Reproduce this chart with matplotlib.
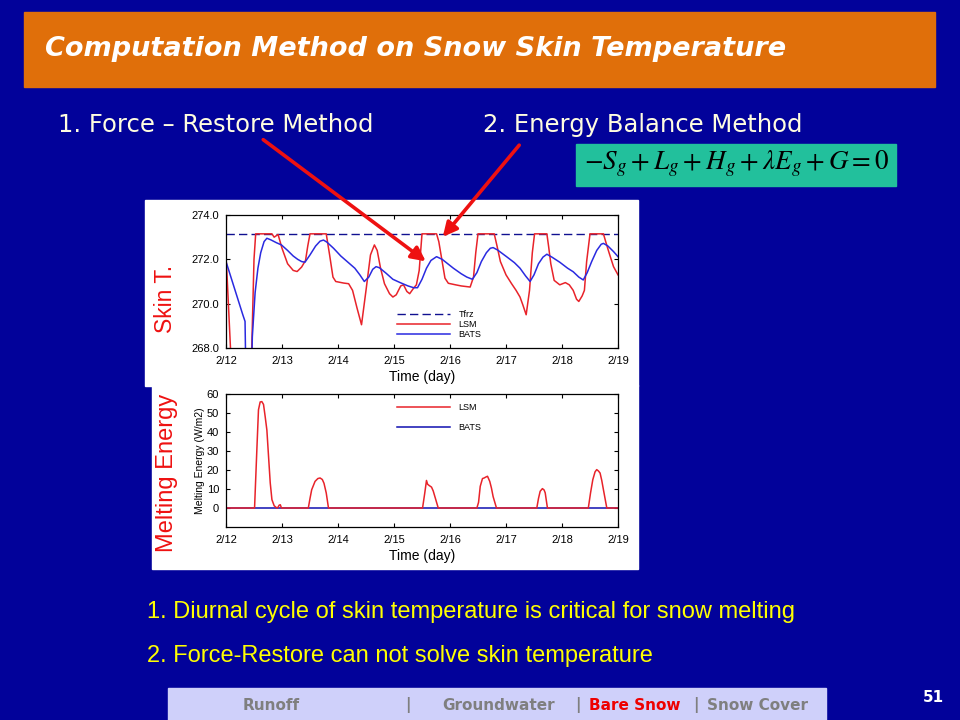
import matplotlib
matplotlib.use("Agg")
import matplotlib.pyplot as plt
from matplotlib.patches import Rectangle, FancyArrowPatch

# ---- data (t = days since 2/12) ----
day_labels = ["2/12", "2/13", "2/14", "2/15", "2/16", "2/17", "2/18", "2/19"]
tfrz = 273.15

lsm_t = [0.00, 0.02, 0.08, 0.12, 0.43, 0.46, 0.50, 0.53, 0.82, 0.86, 0.93, 1.00, 1.10, 1.20,
         1.27, 1.35, 1.42, 1.46, 1.50, 1.79, 1.85, 1.91, 1.96, 2.10, 2.19, 2.26, 2.34, 2.42,
         2.50, 2.58, 2.65, 2.70, 2.76, 2.83, 2.92, 2.98, 3.04, 3.12, 3.17, 3.23, 3.28, 3.35,
         3.40, 3.45, 3.50, 3.76, 3.80, 3.84, 3.91, 3.97, 4.10, 4.20, 4.36, 4.42, 4.46, 4.50,
         4.79, 4.84, 4.90, 5.00, 5.10, 5.18, 5.25, 5.30, 5.36, 5.42, 5.47, 5.51, 5.73, 5.76,
         5.80, 5.86, 5.96, 6.06, 6.13, 6.20, 6.26, 6.30, 6.36, 6.40, 6.44, 6.50, 6.74, 6.78,
         6.84, 6.92, 7.00]
lsm_temp = [272.1, 271.2, 268.0, 266.0, 266.0, 268.0, 272.0, 273.15, 273.15, 273.0, 273.12,
            272.5, 271.8, 271.5, 271.45, 271.65, 271.95, 272.6, 273.15, 273.15, 272.2, 271.2,
            271.0, 270.93, 270.9, 270.6, 269.8, 269.05, 270.6, 272.2, 272.65, 272.4, 271.6,
            270.9, 270.45, 270.3, 270.4, 270.8, 270.85, 270.55, 270.45, 270.7, 270.85, 271.5,
            273.15, 273.15, 272.8, 272.2, 271.15, 270.92, 270.85, 270.8, 270.75, 271.2, 272.3,
            273.15, 273.15, 272.6, 271.9, 271.3, 270.9, 270.6, 270.3, 269.95, 269.5, 270.6,
            272.3, 273.15, 273.15, 272.6, 271.8, 271.05, 270.85, 270.95, 270.85, 270.6, 270.2,
            270.1, 270.35, 270.6, 271.9, 273.15, 273.15, 272.8, 272.3, 271.67, 271.3]

bats_t = [0.00, 0.10, 0.20, 0.30, 0.34, 0.36, 0.45, 0.47, 0.52, 0.57, 0.62, 0.68, 0.73, 0.80,
          0.90, 0.99, 1.10, 1.20, 1.28, 1.35, 1.41, 1.50, 1.60, 1.68, 1.74, 1.80, 1.92, 2.05,
          2.20, 2.30, 2.39, 2.47, 2.55, 2.62, 2.68, 2.74, 2.86, 2.98, 3.11, 3.25, 3.35, 3.42,
          3.50, 3.58, 3.66, 3.76, 3.86, 3.96, 4.06, 4.20, 4.30, 4.40, 4.48, 4.56, 4.65, 4.72,
          4.77, 4.85, 5.01, 5.15, 5.25, 5.35, 5.43, 5.50, 5.58, 5.66, 5.73, 5.82, 5.96, 6.10,
          6.20, 6.30, 6.38, 6.45, 6.53, 6.62, 6.70, 6.74, 6.82, 6.92, 7.00]
bats_temp = [271.9, 271.1, 270.3, 269.5, 269.2, 266.0, 266.0, 268.5, 270.5, 271.6, 272.3,
             272.8, 272.95, 272.88, 272.75, 272.65, 272.4, 272.15, 272.0, 271.9, 271.87, 272.2,
             272.6, 272.82, 272.87, 272.78, 272.5, 272.15, 271.82, 271.6, 271.3, 271.0, 271.2,
             271.55, 271.67, 271.62, 271.37, 271.1, 270.95, 270.8, 270.72, 270.72, 271.1, 271.6,
             271.95, 272.12, 272.0, 271.8, 271.6, 271.35, 271.2, 271.1, 271.4, 271.9, 272.3,
             272.5, 272.53, 272.42, 272.12, 271.85, 271.6, 271.25, 271.0, 271.3, 271.8, 272.1,
             272.23, 272.1, 271.87, 271.6, 271.44, 271.2, 271.07, 271.4, 271.9, 272.4, 272.68,
             272.72, 272.6, 272.35, 272.12]

melt_lsm_t = [0, 0.51, 0.55, 0.58, 0.61, 0.64, 0.67, 0.70, 0.73, 0.76, 0.79, 0.82, 0.86, 0.90,
              0.92, 0.95, 0.97, 0.99, 1.47, 1.50, 1.53, 1.59, 1.64, 1.68, 1.72, 1.75, 1.79, 1.83,
              3.51, 3.55, 3.58, 3.60, 3.63, 3.67, 3.70, 3.73, 3.79, 4.48, 4.51, 4.54, 4.58, 4.61,
              4.64, 4.67, 4.71, 4.74, 4.77, 4.83, 5.55, 5.58, 5.61, 5.65, 5.68, 5.70, 5.74, 6.47,
              6.51, 6.55, 6.59, 6.62, 6.65, 6.68, 6.71, 6.74, 6.80, 7.0]
melt_lsm = [0, 0, 30, 51.7, 55.8, 56, 54.5, 48, 41, 27, 13.2, 4.4, 1.2, 0.2, 0, 1.5, 1.7, 0,
            0, 5, 9.6, 14, 15.5, 15.8, 15, 13, 7.9, 0, 0, 8, 14.5, 12.5, 11.8, 11, 9, 6, 0,
            0, 3, 11.4, 15.5, 15.8, 16.3, 16.7, 14, 10.5, 6, 0, 0, 5, 8.8, 10.2, 9.5, 8.0, 0,
            0, 8, 14.9, 19, 20.2, 19.5, 18.4, 14.5, 9.6, 0, 0]
melt_bats_t = [0, 7]
melt_bats = [0, 0]

W, H = 960, 720


def fx(px):
    return px / W


def fy(py):
    return 1 - py / H


BG = "#02029a"
RED = "#ee1111"
LSM_C = "#e8232a"
BATS_C = "#2a2ae0"

fig = plt.figure(figsize=(9.6, 7.2), dpi=100, facecolor=BG)


def box(x0, y0, x1, y1, color):
    fig.patches.append(Rectangle((fx(x0), fy(y1)), fx(x1) - fx(x0), fy(y0) - fy(y1),
                                 transform=fig.transFigure, color=color, zorder=-10))


# title bar
box(24, 12, 935, 87, "#e06f0a")
fig.text(fx(45), fy(49), "Computation Method on Snow Skin Temperature", color="white",
         fontsize=19.5, fontweight="bold", fontstyle="italic", va="center", ha="left")

# sub headings
fig.text(fx(58), fy(125), "1. Force \u2013 Restore Method", color="#fffde0", fontsize=17.5,
         va="center", ha="left")
fig.text(fx(483), fy(125), "2. Energy Balance Method", color="#fffde0", fontsize=17.5,
         va="center", ha="left")

# equation box
box(576, 144, 896, 186, "#22c09c")
fig.text(fx(737), fy(164), r"$-S_g+L_g+H_g+\lambda E_g+G=0$", color="black", fontsize=19.5,
         va="center", ha="center", math_fontfamily="stix")

# white panels behind charts
box(145, 200, 638, 386, "white")
box(152, 385, 638, 569, "white")

tick_font = {"family": "Liberation Sans", "size": 8}
leg_font = {"family": "Liberation Sans", "size": 6.5}

# ---- skin temperature ----
ax1 = fig.add_axes([fx(226), fy(348), fx(618) - fx(226), fy(215) - fy(348)])
ax1.axhline(tfrz, color="#101090", lw=1.0, ls=(0, (6, 3)), label="Tfrz")
ax1.plot(lsm_t, lsm_temp, color=LSM_C, lw=1.1, label="LSM")
ax1.plot(bats_t, bats_temp, color=BATS_C, lw=1.1, label="BATS")
ax1.set_xlim(0, 7)
ax1.set_ylim(268, 274)
ax1.set_yticks([268, 270, 272, 274])
ax1.set_yticklabels(["268.0", "270.0", "272.0", "274.0"], fontdict=tick_font)
ax1.set_xticks(range(8))
ax1.set_xticklabels(day_labels, fontdict=tick_font)
ax1.set_xlabel("Time (day)", family="Liberation Sans", fontsize=10, labelpad=3)
ax1.legend(loc="center left", bbox_to_anchor=(0.436, 0.175), frameon=False,
           prop=leg_font, handlelength=5.9, handletextpad=0.9, labelspacing=0.1,
           borderpad=0, borderaxespad=0)

# ---- melting energy ----
ax2 = fig.add_axes([fx(226), fy(527), fx(618) - fx(226), fy(394) - fy(527)])
ax2.plot(melt_bats_t, melt_bats, color="#1010b0", lw=1.1, label="BATS")
ax2.plot(melt_lsm_t, melt_lsm, color=LSM_C, lw=1.1, label="LSM")
ax2.set_xlim(0, 7)
ax2.set_ylim(-10, 60)
ax2.set_yticks(range(0, 61, 10))
ax2.set_yticklabels([str(v) for v in range(0, 61, 10)], fontdict=tick_font)
ax2.set_xticks(range(8))
ax2.set_xticklabels(day_labels, fontdict=tick_font)
ax2.set_xlabel("Time (day)", family="Liberation Sans", fontsize=10, labelpad=3)
ax2.set_ylabel("Melting Energy (W/m2)", family="Liberation Sans", fontsize=7.5, labelpad=1)
h, l = ax2.get_legend_handles_labels()
ax2.legend(h[::-1], l[::-1], loc="center left", bbox_to_anchor=(0.436, 0.823), frameon=False,
           prop=leg_font, handlelength=5.9, handletextpad=0.9, labelspacing=1.2,
           borderpad=0, borderaxespad=0)

for ax in (ax1, ax2):
    ax.set_facecolor("white")
    ax.tick_params(direction="in", top=True, right=True, length=3, width=0.8)
    ax.tick_params(axis="x", pad=5.5)
    ax.tick_params(axis="y", pad=5)
    for s in ax.spines.values():
        s.set_linewidth(0.9)

# big red labels
fig.text(fx(165), fy(299), "Skin T.", color=RED, fontsize=16.5, family="Liberation Sans",
         rotation=90, va="center", ha="center")
fig.text(fx(167), fy(473), "Melting Energy", color=RED, fontsize=17, family="Liberation Sans",
         rotation=90, va="center", ha="center")

# arrows
for tail, head in [((261, 138), (428, 263)), ((521, 143), (441, 239))]:
    fig.add_artist(FancyArrowPatch((fx(tail[0]), fy(tail[1])), (fx(head[0]), fy(head[1])),
                                   transform=fig.transFigure, arrowstyle="-|>",
                                   mutation_scale=21, lw=2.6, color=RED, zorder=5))

# conclusions
fig.text(fx(147), fy(612), "1. Diurnal cycle of skin temperature is critical for snow melting",
         color="#ffff00", fontsize=17, family="Liberation Sans", va="center", ha="left")
fig.text(fx(147), fy(656), "2. Force-Restore can not solve skin temperature",
         color="#ffff00", fontsize=17, family="Liberation Sans", va="center", ha="left")

# footer
box(168, 688, 826, 720, "#cfd0fa")
foot = [(243, "Runoff", "#7f7f7f"), (405, "|", "#7f7f7f"), (442, "Groundwater", "#7f7f7f"),
        (575, "|", "#7f7f7f"), (589, "Bare Snow", "#ee0000"), (693, "|", "#7f7f7f"),
        (707, "Snow Cover", "#7f7f7f")]
for x, s, c in foot:
    fig.text(fx(x), fy(705), s, color=c, fontsize=11, fontweight="bold", va="center",
             ha="left")
fig.text(fx(933), fy(697), "51", color="white", fontsize=11, fontweight="bold",
         va="center", ha="center")

fig.savefig("out.png", dpi=100, facecolor=BG)
